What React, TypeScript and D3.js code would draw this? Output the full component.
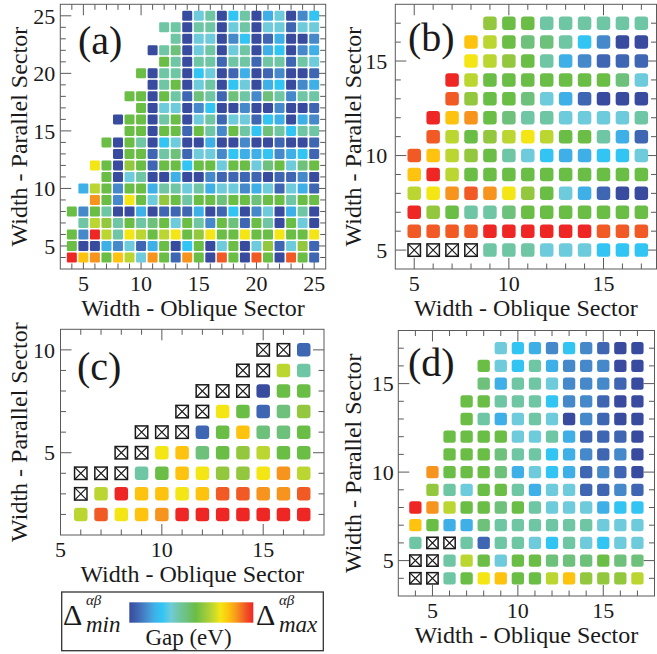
import React from 'react';
import * as d3 from 'd3';

// gap colour levels, one hex digit per cell: 0 = Δmin (dark blue) ... f = Δmax (red)
const gapLevels = d3.range(16);
const gapPalette = [
  '#394b9f', '#3f66b2', '#4689cb', '#3fb0e7', '#32c5f4', '#6ecbdb', '#6fc6a4', '#6dc17a',
  '#6abd45', '#93c83e', '#bcd631', '#f4e614', '#fdc30f', '#f7941d', '#f15a24', '#ee2624',
];
const gapColor = d3.scaleLinear<string>().domain(gapLevels).range(gapPalette);

// '.' = no ribbon, 'x' = metallic (crossed box)
// panel (a): oblique width 4..25, parallel width 25..4
const aXs = d3.range(4, 26);
const aYs = d3.range(25, 3, -1);
const aCells = [
  '..........056046035024',
  '........66066056055155',
  '.........6055024013002',
  '.......067056056034023',
  '........86066166166165',
  '......8066045013012001',
  '.......068056045034023',
  '.....88086176176276266',
  '......8055024002002001',
  '....088068056155143032',
  '.....88088186286476466',
  '...8086045003002001001',
  '....088167155243342341',
  '..b8098188488588578578',
  '...8056003002111101120',
  '.3a8288366563552351531',
  '..d82b8598688788788688',
  '8286003011130140250360',
  '.6a9686785862871860850',
  '82fa6ba8ab89b88b88b88b',
  '8003251380480580591591',
  'fcd8ca5d81d80e80e80e81',
];
const aXTicks = [5, 10, 15, 20, 25];
const aYTicks = [5, 10, 15, 20, 25];

// panel (b): oblique 5..17, parallel 17..5
const bXs = d3.range(5, 18);
const bYs = d3.range(17, 4, -1);
const bCells = [
  '....988666666',
  '...ca87764200',
  '...ba98632111',
  '..fa888888875',
  '..e9887531000',
  '.fcd876655556',
  '.ea89aba88631',
  'eca9865433445',
  'cfa8888888888',
  'abdedb9853100',
  'f986678888888',
  'eeeeffffffeee',
  'xxxx666555444',
];
const bXTicks = [5, 10, 15];
const bYTicks = [5, 10, 15];

// panel (c): oblique 6..17, parallel 10..2
const cXs = d3.range(6, 18);
const cYs = d3.range(10, 1, -1);
const cCells = [
  '.........xx1',
  '........xxa6',
  '......xxx088',
  '.....xxb8179',
  '...xxx18c778',
  '..xxbc789a88',
  'xxx68cb99bda',
  'xafccbceedde',
  'aebcdfffffff',
];
const cXTicks = [5, 10, 15];
const cYTicks = [5, 10];

// panel (d): oblique 4..17, parallel 17..4
const dXs = d3.range(4, 18);
const dYs = d3.range(17, 3, -1);
const dCells = [
  '.....543242100',
  '....8546322200',
  '....7366522210',
  '...88666422100',
  '...86356502100',
  '..888855631110',
  '..888766432120',
  '.d888735431210',
  '.9658863551121',
  'fda88786555344',
  'c8337666666555',
  '6xx61665465455',
  'xx6a8588777877',
  'xx68bc88ac999a',
];
const dXTicks = [5, 10, 15];
const dYTicks = [5, 10, 15];

const xTitle = 'Width - Oblique Sector';
const yTitle = 'Width - Parallel Sector';

const FONT = 'Liberation Serif';
const INK = '#1a1a1a';
const AXIS = '#5a5a5a';

type Spec = {
  label: string;
  xs: number[];
  ys: number[];
  cells: string[];
  xTicks: number[];
  yTicks: number[];
  xDomain: [number, number];
  yDomain: [number, number];
  box: [number, number, number, number]; // left, right, top, bottom
  cell: number;
  rx: number;
  labelAt: [number, number];
  yTitleX: number;
  yGap: number;
};

const panels: Spec[] = [
  {
    label: '(a)', xs: aXs, ys: aYs, cells: aCells, xTicks: aXTicks, yTicks: aYTicks,
    xDomain: [3, 26], yDomain: [3, 26], box: [60.3, 325.7, 4.3, 269],
    cell: 10, rx: 1.3, labelAt: [78, 54], yTitleX: 27, yGap: 5,
  },
  {
    label: '(b)', xs: bXs, ys: bYs, cells: bCells, xTicks: bXTicks, yTicks: bYTicks,
    xDomain: [4, 17.8], yDomain: [4, 18], box: [395.3, 656.5, 4.3, 269],
    cell: 13.5, rx: 3, labelAt: [408, 51], yTitleX: 361, yGap: 8,
  },
  {
    label: '(c)', xs: cXs, ys: cYs, cells: cCells, xTicks: cXTicks, yTicks: cYTicks,
    xDomain: [5, 18], yDomain: [1, 11], box: [60.5, 324, 329.3, 535],
    cell: 13.5, rx: 3, labelAt: [77, 380], yTitleX: 27, yGap: 5.5,
  },
  {
    label: '(d)', xs: dXs, ys: dYs, cells: dCells, xTicks: dXTicks, yTicks: dYTicks,
    xDomain: [3, 18], yDomain: [3, 18], box: [398.3, 654.5, 330.5, 596],
    cell: 12.3, rx: 2.5, labelAt: [408, 376], yTitleX: 361, yGap: 4.5,
  },
];

function Panel({ p }: { p: Spec }) {
  const [left, right, top, bottom] = p.box;
  const x = d3.scaleLinear().domain(p.xDomain).range([left, right]);
  const y = d3.scaleLinear().domain(p.yDomain).range([bottom, top]);
  const xt = d3.range(Math.floor(p.xDomain[0]) + 1, Math.ceil(p.xDomain[1]));
  const yt = d3.range(Math.floor(p.yDomain[0]) + 1, Math.ceil(p.yDomain[1]));
  const len = (t: number) => (t % 5 === 0 ? 11 : 5.5);
  const cells = p.cells
    .flatMap((row, i) => row.split('').map((c, j) => ({ gx: p.xs[j], gy: p.ys[i], c })))
    .filter((d) => d.c !== '.');
  const h = p.cell / 2;
  const cx = (left + right) / 2;
  const cy = (top + bottom) / 2;

  return (
    <g>
      <g stroke={AXIS} strokeWidth={1}>
        {xt.map((t) => (
          <g key={'x' + t}>
            <line x1={x(t)} x2={x(t)} y1={bottom} y2={bottom - len(t)} />
            <line x1={x(t)} x2={x(t)} y1={top} y2={top + len(t)} />
          </g>
        ))}
        {yt.map((t) => (
          <g key={'y' + t}>
            <line x1={left} x2={left + len(t)} y1={y(t)} y2={y(t)} />
            <line x1={right} x2={right - len(t)} y1={y(t)} y2={y(t)} />
          </g>
        ))}
        <rect x={left} y={top} width={right - left} height={bottom - top} fill="none" />
      </g>

      {cells.map((d) => {
        const px = x(d.gx);
        const py = y(d.gy);
        if (d.c === 'x') {
          const s = h * 0.92;
          return (
            <g key={d.gx + '-' + d.gy} stroke={INK} strokeWidth={1.5} fill="#fff">
              <rect x={px - s} y={py - s} width={2 * s} height={2 * s} />
              <path
                d={`M${px - s},${py - s}L${px + s},${py + s}M${px + s},${py - s}L${px - s},${py + s}`}
                strokeWidth={1.2}
              />
            </g>
          );
        }
        return (
          <rect
            key={d.gx + '-' + d.gy}
            x={px - h}
            y={py - h}
            width={p.cell}
            height={p.cell}
            rx={p.rx}
            fill={gapColor(parseInt(d.c, 16))}
          />
        );
      })}

      {p.xTicks.map((t) => (
        <text key={'xl' + t} x={x(t)} y={bottom + 22} textAnchor="middle" fontFamily={FONT} fontSize={22} fill={INK}>
          {t}
        </text>
      ))}
      {p.yTicks.map((t) => (
        <text key={'yl' + t} x={left - p.yGap} y={y(t)} dy="0.35em" textAnchor="end" fontFamily={FONT} fontSize={22} fill={INK}>
          {t}
        </text>
      ))}
      <text x={cx} y={bottom + 47} fontSize={24} textAnchor="middle" fontFamily={FONT} fill={INK}>
        {xTitle}
      </text>
      <text
        transform={`translate(${p.yTitleX},${cy}) rotate(-90)`}
        fontSize={24}
        textAnchor="middle"
        fontFamily={FONT}
        fill={INK}
      >
        {yTitle}
      </text>
      <text x={p.labelAt[0]} y={p.labelAt[1]} fontSize={40} fontFamily={FONT} fill={INK}>
        {p.label}
      </text>
    </g>
  );
}

function Legend() {
  return (
    <g>
      <defs>
        <linearGradient id="gapGrad" x1="0" x2="1" y1="0" y2="0">
          {gapLevels.map((l) => (
            <stop key={l} offset={l / 15} stopColor={gapColor(l)} />
          ))}
        </linearGradient>
      </defs>
      <rect x={61.7} y={592} width={261.6} height={58.7} fill="none" stroke="#333" strokeWidth={1.3} />
      <rect x={129.3} y={602.3} width={124} height={20.4} fill="url(#gapGrad)" />
      <text x={63} y={625} fontSize={30} fontFamily={FONT} fill={INK}>Δ</text>
      <text x={86} y={605} fontSize={15} fontStyle="italic" fontFamily={FONT} fill={INK}>αβ</text>
      <text x={86} y={632} fontSize={23} fontStyle="italic" fontFamily={FONT} fill={INK}>min</text>
      <text x={256} y={625} fontSize={30} fontFamily={FONT} fill={INK}>Δ</text>
      <text x={279} y={605} fontSize={15} fontStyle="italic" fontFamily={FONT} fill={INK}>αβ</text>
      <text x={279} y={632} fontSize={23} fontStyle="italic" fontFamily={FONT} fill={INK}>max</text>
      <text x={188.5} y={645} fontSize={23} textAnchor="middle" fontFamily={FONT} fill={INK}>Gap (eV)</text>
    </g>
  );
}

export default function App() {
  return (
    <svg
      width={657}
      height={654}
      viewBox="0 0 657 654"
      style={{ position: 'absolute', left: 0, top: 0, background: '#fff' }}
    >
      {panels.map((p) => (
        <Panel key={p.label} p={p} />
      ))}
      <Legend />
    </svg>
  );
}
